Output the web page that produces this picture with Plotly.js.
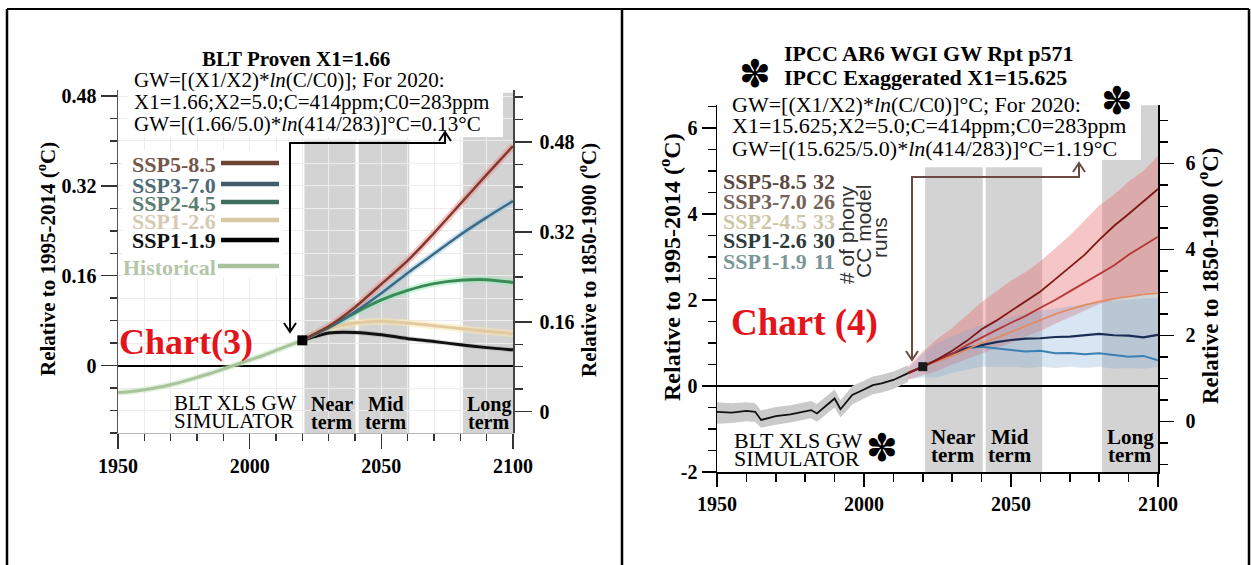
<!DOCTYPE html>
<html><head><meta charset="utf-8">
<script src="https://cdn.plot.ly/plotly-3.0.1.min.js"></script>
<style>html,body{margin:0;padding:0;background:#fff;}#chart{width:1251px;height:565px;}</style>
</head><body><div id="chart"></div>
<script>
// ================= DATA =================
// Chart (3) – BLT simulator, values relative to 1995-2014 (left axis)
const histYears3 = [1950,1955,1960,1965,1970,1975,1980,1985,1990,1995,2000,2005,2010,2015,2020];
const hist3      = [-0.048,-0.046,-0.043,-0.039,-0.034,-0.028,-0.021,-0.014,-0.006,0.002,0.010,0.018,0.027,0.036,0.045];
const projYears3 = [2020,2030,2040,2050,2060,2070,2080,2090,2100];
const ssp585_3   = [0.045,0.070,0.104,0.145,0.187,0.236,0.288,0.340,0.391];
const ssp370_3   = [0.045,0.067,0.096,0.129,0.165,0.199,0.233,0.264,0.293];
const ssp245_3   = [0.045,0.068,0.094,0.117,0.134,0.146,0.152,0.153,0.148];
const ssp126_3   = [0.045,0.066,0.076,0.079,0.076,0.071,0.066,0.061,0.057];
const ssp119_3   = [0.045,0.058,0.059,0.055,0.048,0.043,0.037,0.032,0.028];
const point3     = {year:2020, value:0.045};

// Chart (4) – IPCC AR6, values relative to 1995-2014 (left axis)
const histYears4 = [1950,1955,1960,1963,1965,1970,1975,1980,1982,1984,1988,1990,1992,1996,2000,2003,2006,2010,2015];
const hist4      = [-0.60,-0.62,-0.58,-0.60,-0.79,-0.70,-0.66,-0.60,-0.56,-0.64,-0.40,-0.29,-0.54,-0.21,-0.08,0.02,0.06,0.14,0.30];
const hist4Hi    = [-0.38,-0.40,-0.38,-0.40,-0.57,-0.49,-0.45,-0.39,-0.35,-0.42,-0.20,-0.08,-0.33,0.00,0.12,0.22,0.26,0.34,0.48];
const hist4Lo    = [-0.88,-0.86,-0.82,-0.84,-0.97,-0.90,-0.85,-0.79,-0.75,-0.83,-0.61,-0.50,-0.73,-0.43,-0.29,-0.19,-0.15,-0.07,0.10];
const projYears4 = [2015,2020,2025,2030,2035,2040,2045,2050,2055,2060,2065,2070,2075,2080,2085,2090,2095,2100];
const ssp585_4   = [0.30,0.45,0.62,0.82,1.05,1.32,1.52,1.75,1.98,2.20,2.48,2.76,3.05,3.40,3.72,4.00,4.30,4.58];
const ssp370_4   = [0.30,0.45,0.60,0.75,0.95,1.13,1.30,1.47,1.63,1.82,2.00,2.20,2.40,2.60,2.80,3.05,3.25,3.47];
const ssp245_4   = [0.30,0.45,0.57,0.70,0.85,1.00,1.12,1.26,1.40,1.53,1.67,1.78,1.88,1.96,2.03,2.08,2.13,2.16];
const ssp126_4   = [0.30,0.45,0.60,0.75,0.88,0.95,1.02,1.07,1.10,1.11,1.14,1.15,1.18,1.21,1.18,1.17,1.13,1.19];
const ssp119_4   = [0.30,0.45,0.62,0.75,0.88,0.91,0.87,0.84,0.80,0.82,0.76,0.77,0.74,0.76,0.72,0.68,0.70,0.60];
const highBandHi = [0.45,0.80,1.10,1.35,1.65,1.95,2.20,2.45,2.65,2.90,3.20,3.50,3.85,4.20,4.45,4.75,5.00,5.35];
const highBandLo = [0.15,0.25,0.35,0.50,0.62,0.75,0.88,1.00,1.15,1.28,1.45,1.60,1.75,1.90,2.00,2.10,2.15,2.20];
const lowBandHi  = [0.40,0.75,1.00,1.15,1.30,1.42,1.52,1.60,1.68,1.75,1.80,1.85,1.90,1.95,1.98,2.00,2.02,2.05];
const lowBandLo  = [0.15,0.20,0.20,0.30,0.38,0.45,0.45,0.45,0.42,0.45,0.42,0.45,0.42,0.45,0.40,0.42,0.40,0.45];
const point4     = {year:2020, value:0.45};

// Term periods
const termNames  = ['Near','Mid','Long'];
const termStart  = [2020.8,2041.4,2081];
const termEnd    = [2040.4,2060.6,2100];

// Tick labels
const xTicks     = [1950,2000,2050,2100];
const yTicks3    = [0,0.16,0.32,0.48];
const yTicks4L   = [-2,0,2,4,6];
const yTicks4R   = [0,2,4,6];

// Legends
const leg3Names  = ['SSP5-8.5','SSP3-7.0','SSP2-4.5','SSP1-2.6','SSP1-1.9','Historical'];
const leg4Names  = ['SSP5-8.5','SSP3-7.0','SSP2-4.5','SSP1-2.6','SSP1-1.9'];
const leg4Runs   = ['32','26','33','30','11'];

// ================= STYLE / LAYOUT =================
const W = 1251, H = 565;
const PX = v => v / W, PY = v => 1 - v / H;
const SERIF = 'Liberation Serif';
const SANS = 'Liberation Sans';

const y3Range = [-0.12, 0.4907];
const y3Off = 0.082;
const y4Range = [-2, 6.535];
const y4Off = 0.82;

const c3 = {ssp585:'#7b3b2e', ssp370:'#3d6a82', ssp245:'#3a8a58', ssp126:'#e2c9a1', ssp119:'#111111', hist:'#a9c49b'};
const g3 = {ssp585:'rgba(240,140,140,0.5)', ssp370:'rgba(150,200,230,0.5)', ssp245:'rgba(150,235,180,0.5)',
            ssp126:'rgba(250,232,175,0.55)', ssp119:'rgba(110,110,110,0.2)', hist:'rgba(195,225,185,0.45)'};

function L3(x, y, color, width) {
  return {x, y, mode:'lines', line:{color, width, shape:'spline', smoothing:0.6},
          xaxis:'x', yaxis:'y', hoverinfo:'skip', showlegend:false};
}
function L4(x, y, color, width) {
  return {x, y, mode:'lines', line:{color, width}, xaxis:'x2', yaxis:'y3', hoverinfo:'skip', showlegend:false};
}
function band4(x, lo, hi, fill) {
  return [
    {x, y:lo, mode:'lines', line:{width:0, color:'rgba(0,0,0,0)'}, xaxis:'x2', yaxis:'y3', hoverinfo:'skip', showlegend:false},
    {x, y:hi, mode:'lines', line:{width:0, color:'rgba(0,0,0,0)'}, fill:'tonexty', fillcolor:fill, xaxis:'x2', yaxis:'y3', hoverinfo:'skip', showlegend:false}
  ];
}

const traces = [
  L3(histYears3, hist3, g3.hist, 6),
  L3(projYears3, ssp119_3, g3.ssp119, 5),
  L3(projYears3, ssp126_3, g3.ssp126, 7),
  L3(projYears3, ssp245_3, g3.ssp245, 7),
  L3(projYears3, ssp370_3, g3.ssp370, 6),
  L3(projYears3, ssp585_3, g3.ssp585, 7),
  L3(histYears3, hist3, c3.hist, 3),
  L3(projYears3, ssp119_3, c3.ssp119, 3),
  L3(projYears3, ssp126_3, c3.ssp126, 3),
  L3(projYears3, ssp245_3, c3.ssp245, 3),
  L3(projYears3, ssp370_3, c3.ssp370, 2.5),
  L3(projYears3, ssp585_3, c3.ssp585, 2.5),
  {x:[point3.year], y:[point3.value], mode:'markers', marker:{symbol:'square', size:10, color:'#000'},
   xaxis:'x', yaxis:'y', hoverinfo:'skip', showlegend:false},
  {x:[], y:[], mode:'lines', xaxis:'x', yaxis:'y2', showlegend:false, hoverinfo:'skip'},
  ...band4(histYears4, hist4Lo, hist4Hi, '#cacaca'),
  ...band4(projYears4, highBandLo, highBandHi, 'rgba(232,110,110,0.40)'),
  ...band4(projYears4, lowBandLo, lowBandHi, 'rgba(125,170,215,0.30)'),
  L4(histYears4, hist4, '#111111', 1.8),
  L4(projYears4, ssp119_4, '#3b80b2', 2),
  L4(projYears4, ssp126_4, '#1b2d55', 2.2),
  L4(projYears4, ssp245_4, '#e08d66', 1.8),
  L4(projYears4, ssp370_4, '#b53636', 1.8),
  L4(projYears4, ssp585_4, '#7e1818', 1.8),
  {x:[point4.year], y:[point4.value], mode:'markers', marker:{symbol:'square', size:9, color:'#1a1a1a'},
   xaxis:'x2', yaxis:'y3', hoverinfo:'skip', showlegend:false},
  {x:[], y:[], mode:'lines', xaxis:'x2', yaxis:'y4', showlegend:false, hoverinfo:'skip'}
];

const tickFont = () => ({family:'Liberation Serif, serif', size:20, color:'#000'});
const B = v => '<b>' + v + '</b>';
function fmt(v){ return B(v === 0 ? '0' : String(v)); }

const layout = {
  width:W, height:H, margin:{l:0,r:0,t:0,b:0},
  paper_bgcolor:'#fff', plot_bgcolor:'#fff', showlegend:false,
  font:{family:'Liberation Serif, serif', color:'#000'},
  xaxis:{domain:[PX(118),PX(513)], range:[1950,2100], anchor:'y', tickvals:xTicks, ticktext:xTicks.map(B),
    ticks:'outside', ticklen:15, tickwidth:1.5, tickcolor:'#333', tickfont:tickFont(),
    showline:true, linecolor:'#b8b8b8', linewidth:1, showgrid:true, gridcolor:'#ececec', zeroline:false,
    minor:{dtick:10, tick0:1950, ticks:'outside', ticklen:7, tickwidth:1.5, tickcolor:'#333', showgrid:true, gridcolor:'#ececec'}},
  yaxis:{domain:[PY(433),PY(90)], range:y3Range, anchor:'x', tickvals:yTicks3, ticktext:yTicks3.map(fmt),
    ticks:'outside', ticklen:16, tickwidth:1.5, tickcolor:'#333', tickfont:tickFont(),
    showline:true, linecolor:'#555', linewidth:1.5, showgrid:true, gridcolor:'#ececec',
    zeroline:true, zerolinecolor:'#000', zerolinewidth:2,
    minor:{dtick:0.04, tick0:0, ticks:'outside', ticklen:7, tickwidth:1.5, tickcolor:'#333', showgrid:true, gridcolor:'#ececec'}},
  yaxis2:{overlaying:'y', side:'right', anchor:'x', range:[y3Range[0]+y3Off, y3Range[1]+y3Off],
    tickvals:yTicks3, ticktext:yTicks3.map(fmt), ticks:'outside', ticklen:17, tickwidth:1.5, tickcolor:'#333',
    tickfont:tickFont(), showline:true, linecolor:'#444', linewidth:1.5, showgrid:false, zeroline:false,
    ticklabelstandoff:4,
    minor:{dtick:0.04, tick0:0, ticks:'outside', ticklen:8, tickwidth:1.5, tickcolor:'#333'}},
  xaxis2:{domain:[PX(717),PX(1158)], range:[1950,2100], anchor:'y3', tickvals:xTicks, ticktext:xTicks.map(B),
    ticks:'outside', ticklen:13, tickwidth:1.5, tickcolor:'#000', tickfont:tickFont(),
    showline:true, linecolor:'#000', linewidth:1.5, showgrid:false, zeroline:false,
    minor:{dtick:10, tick0:1950, ticks:'outside', ticklen:8, tickwidth:1.5, tickcolor:'#000'}},
  yaxis3:{domain:[PY(472),PY(105)], range:y4Range, anchor:'x2', tickvals:yTicks4L, ticktext:yTicks4L.map(B),
    ticks:'outside', ticklen:14, tickwidth:1.5, tickcolor:'#000', tickfont:tickFont(),
    showline:true, linecolor:'#000', linewidth:1.5, showgrid:false,
    zeroline:true, zerolinecolor:'#000', zerolinewidth:1.5,
    minor:{dtick:0.5, tick0:0, ticks:'outside', ticklen:8, tickwidth:1.5, tickcolor:'#000'}},
  yaxis4:{overlaying:'y3', side:'right', anchor:'x2', range:[y4Range[0]+y4Off, y4Range[1]+y4Off],
    tickvals:yTicks4R, ticktext:yTicks4R.map(B), ticks:'outside', ticklen:14, tickwidth:1.5, tickcolor:'#000',
    tickfont:tickFont(), showline:true, linecolor:'#000', linewidth:1.5, showgrid:false, zeroline:false,
    ticklabelstandoff:8,
    minor:{dtick:0.5, tick0:0, ticks:'outside', ticklen:8, tickwidth:1.5, tickcolor:'#000'}},
  shapes:[], annotations:[]
};

// ---------- shapes ----------
const S = layout.shapes, A = layout.annotations;
const barTop3 = [0.402,0.402,0.486];
const barTop4 = [5.09,5.09,6.53];
termNames.forEach((n,i)=>{
  S.push({type:'rect', xref:'x', yref:'y', x0:termStart[i], x1:termEnd[i], y0:y3Range[0], y1:barTop3[i],
          fillcolor:'#d3d3d3', line:{width:0}, layer:'below'});
  S.push({type:'rect', xref:'x2', yref:'y3', x0:termStart[i], x1:termEnd[i], y0:y4Range[0], y1:barTop4[i],
          fillcolor:'#d3d3d3', line:{width:0}, layer:'below'});
});
function prect(x0,y0,x1,y1){ S.push({type:'rect', xref:'paper', yref:'paper', x0:PX(x0), x1:PX(x1), y0:PY(y1), y1:PY(y0), fillcolor:'#fff', line:{width:0}, layer:'above'}); }
function pline(x0,y0,x1,y1,color,width){ S.push({type:'line', xref:'paper', yref:'paper', x0:PX(x0), x1:PX(x1), y0:PY(y0), y1:PY(y1), line:{color, width}, layer:'above'}); }
function ppath(pts,color,width){
  const d = pts.map((p,i)=>(i?'L':'M')+PX(p[0]).toFixed(5)+','+PY(p[1]).toFixed(5)).join(' ');
  S.push({type:'path', xref:'paper', yref:'paper', path:d, line:{color, width}, layer:'above'});
}
prect(128,63,503,137);
prect(122,150,283,277);
prect(728,90,1141,160);
// frame
pline(7,9,7,565,'#000',2.5);
pline(622,9,622,565,'#000',2.5);
pline(1249,9,1249,565,'#000',2.5);
pline(7,9,1249,9,'#000',2);

// legend 3 line samples
const leg3Line = ['#6e4535','#3f5d6a','#3e705d','#dac8a2','#000000','#a9c19c'];
const leg3Text = ['#74564a','#4e6a77','#5b7e70','#d6cab2','#111111','#b3c6a9'];
const leg3Row  = [163,184,202,220,240,266];
leg3Names.forEach((n,i)=>{ pline(i===5?218:221, leg3Row[i], 279, leg3Row[i], leg3Line[i], 4.5); });

// connector arrows (annotation graphics)
ppath([[290,331],[290,143],[445,143],[445,134]], '#000', 2);
ppath([[284,323],[290,332],[296,323]], '#000', 2);
ppath([[439,141],[445,132],[451,141]], '#000', 2);
ppath([[912,359],[912,177],[1079,177],[1079,165]], '#6a4a42', 2);
ppath([[906,351],[912,360],[918,351]], '#6a4a42', 2);
ppath([[1073,172],[1079,163],[1085,172]], '#6a4a42', 2);

// ---------- annotations ----------
function T(text, x, y, o) {
  o = o || {};
  A.push({text, xref:'paper', yref:'paper', x:PX(x), y:PY(y), showarrow:false,
    xanchor:o.xa||'center', yanchor:'middle', textangle:o.angle||0,
    font:{family:o.family||SERIF, size:o.size||20, color:o.color||'#000'}});
}
// chart 3 texts
T('<b>BLT Proven X1=1.66</b>', 200, 59, {xa:'left', size:21});
T('GW=[(X1/X2)*<i>ln</i>(C/C0)]; For 2020:', 132, 80, {xa:'left', size:21});
T('X1=1.66;X2=5.0;C=414ppm;C0=283ppm', 132, 102, {xa:'left', size:21});
T('GW=[(1.66/5.0)*<i>ln</i>(414/283)]°C=0.13°C', 132, 124, {xa:'left', size:21});
leg3Names.forEach((n,i)=> T('<b>'+n+'</b>', 218, leg3Row[i]+1, {xa:'right', size:22, color:leg3Text[i]}));
T('<b>Chart(3)</b>', 117, 342, {xa:'left', size:36, color:'#e3141b'});
T('BLT XLS GW', 172, 403, {xa:'left', size:21});
T('SIMULATOR', 172, 421, {xa:'left', size:21});
T('<b>Relative to 1995-2014 (<sup>o</sup>C)</b>', 46, 259, {angle:-90, size:21});
T('<b>Relative to 1850-1900 (<sup>o</sup>C)</b>', 587, 260, {angle:-90, size:21});
const termX3 = [331.5, 385.5, 488.5];
termNames.forEach((n,i)=>{ T('<b>'+n+'</b>', termX3[i], 404, {size:20}); T('<b>term</b>', termX3[i], 422, {size:20}); });

// chart 4 texts
T('<b>IPCC AR6 WGI GW Rpt p571</b>', 782, 53, {xa:'left', size:22});
T('<b>IPCC Exaggerated X1=15.625</b>', 782, 77, {xa:'left', size:22});
T('GW=[(X1/X2)*<i>ln</i>(C/C0)]°C; For 2020:', 730, 104, {xa:'left', size:22});
T('X1=15.625;X2=5.0;C=414ppm;C0=283ppm', 730, 126, {xa:'left', size:22});
T('GW=[(15.625/5.0)*<i>ln</i>(414/283)]°C=1.19°C', 730, 148, {xa:'left', size:22});
T('✽', 755, 74, {size:38, family:'DejaVu Sans'});
T('✽', 1117, 101, {size:38, family:'DejaVu Sans'});
T('✽', 882, 448, {size:38, family:'DejaVu Sans'});
const leg4Text = ['#5b4841','#77625a','#cdc7a9','#2d3b3a','#7a9598'];
const leg4Row  = [181,201,221,241,261];
leg4Names.forEach((n,i)=>{
  T('<b>'+n+'</b>', 721, leg4Row[i], {xa:'left', size:22, color:leg4Text[i]});
  T('<b>'+leg4Runs[i]+'</b>', 837, leg4Row[i], {xa:'right', size:22, color:leg4Text[i]});
});
T('# of phony', 846, 235, {angle:-90, size:21, family:SANS, color:'#333'});
T('CC model', 863, 232, {angle:-90, size:21, family:SANS, color:'#333'});
T('runs', 879, 238, {angle:-90, size:21, family:SANS, color:'#333'});
T('<b>Chart (4)</b>', 729, 323, {xa:'left', size:37, color:'#e3141b'});
T('BLT XLS GW', 732, 440, {xa:'left', size:22});
T('SIMULATOR', 732, 458, {xa:'left', size:22});
T('<b>Relative to 1995-2014 (<sup>o</sup>C)</b>', 670, 267, {angle:-90, size:24});
T('<b>Relative to 1850-1900 (<sup>o</sup>C)</b>', 1208, 276, {angle:-90, size:23});
const termX4 = [953, 1010, 1130];
termNames.forEach((n,i)=>{ T('<b>'+n+'</b>', termX4[i], 437, {size:21}); T('<b>term</b>', termX4[i], 455, {size:21}); });

Plotly.newPlot('chart', traces, layout, {staticPlot:true, displayModeBar:false});
</script>
</body></html>
